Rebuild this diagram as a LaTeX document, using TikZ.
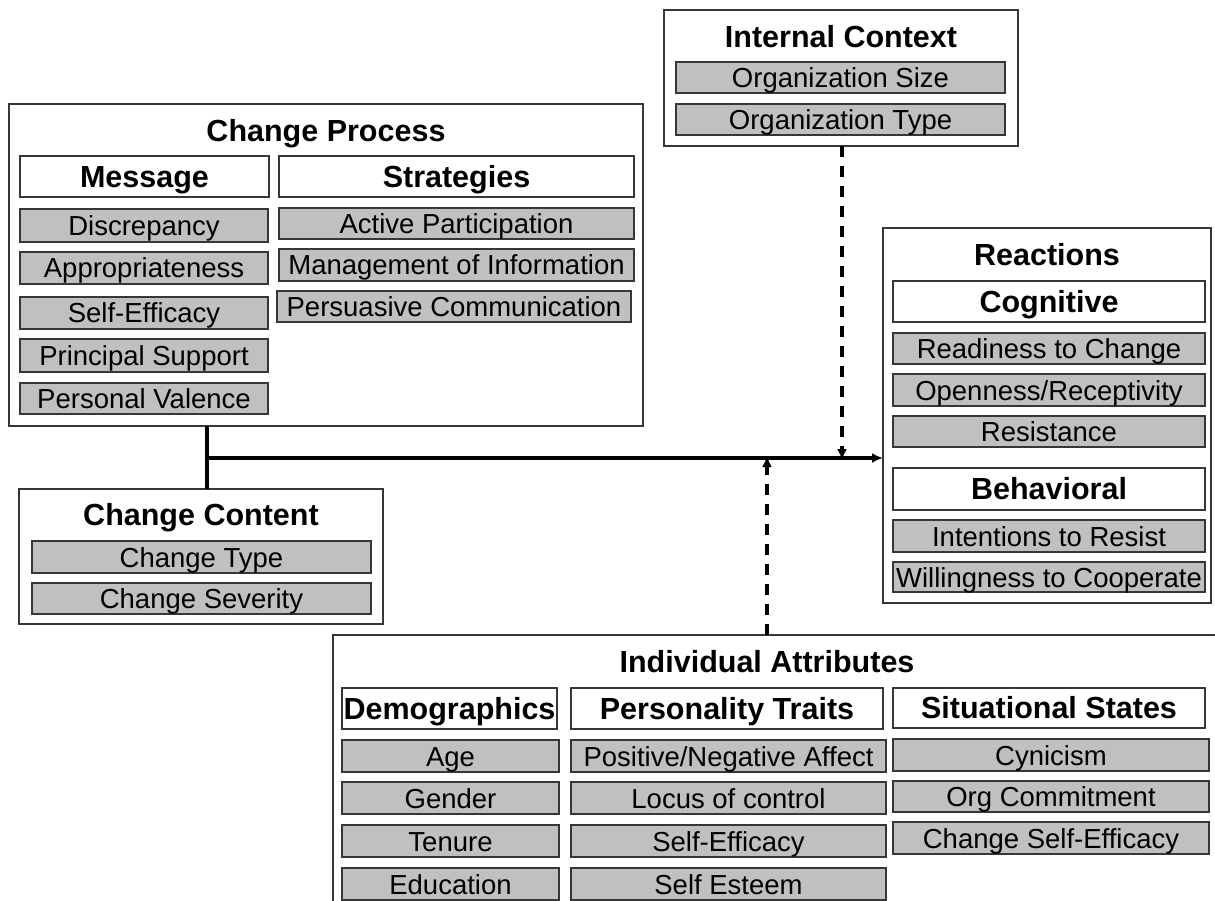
\documentclass[tikz,border=0pt]{standalone}
\usepackage{fontspec}
\setmainfont{Liberation Sans}
\usetikzlibrary{arrows.meta}
\definecolor{itemgray}{RGB}{192,192,192}
\definecolor{edgecol}{RGB}{55,55,55}
\tikzset{
  box/.style={draw=edgecol, line width=1.6pt, anchor=north west, inner sep=0pt, outer sep=0pt},
  container/.style={box, fill=white},
  item/.style={box, fill=itemgray, minimum height=32pt, text height=20pt, text depth=0pt, font=\fontsize{27.5}{30}\selectfont},
  header/.style={box, fill=white, minimum height=41pt, text height=21.5pt, text depth=0pt, font=\bfseries\fontsize{30.5}{33}\selectfont},
  title/.style={inner sep=0pt, text height=21.5pt, text depth=0pt, font=\bfseries\fontsize{30.5}{33}\selectfont},
  link/.style={line width=3.4pt, draw=black},
  dlink/.style={line width=3.2pt, draw=black, dash pattern=on 11pt off 9pt, -{Latex[length=11pt,width=10pt]}},
}
\begin{document}
\begin{tikzpicture}[x=1pt,y=-1pt]
\useasboundingbox (0,0) rectangle (1215,901);
\clip (0,0) rectangle (1215,901);
\fill[white] (0,0) rectangle (1215,901);

% Change Process
\node[container, minimum width=634, minimum height=322] (cp) at (9,104) {};
\node[title] (cpt) at (326,131) {Change Process};
\node[header, minimum width=249] (msg) at (20,156) {Message};
\node[header, minimum width=355] (str) at (279,156) {Strategies};
\node[item, minimum width=248, minimum height=33] (m1) at (20,209) {Discrepancy};
\node[item, minimum width=248] (m2) at (20,252) {Appropriateness};
\node[item, minimum width=248] (m3) at (20,297) {Self-Efficacy};
\node[item, minimum width=248, minimum height=33] (m4) at (20,339) {Principal Support};
\node[item, minimum width=248, minimum height=31] (m5) at (20,383) {Personal Valence};
\node[item, minimum width=355, minimum height=31] (s1) at (279,208) {Active Participation};
\node[item, minimum width=355] (s2) at (279,249) {Management of Information};
\node[item, minimum width=354, minimum height=31] (s3) at (277,291) {Persuasive Communication};

% Internal Context
\node[container, minimum width=354, minimum height=136] (ic) at (664,10) {};
\node[title] (ict) at (841,37) {Internal Context};
\node[item, minimum width=329, minimum height=31] (i1) at (676,62) {Organization Size};
\node[item, minimum width=329, minimum height=31] (i2) at (676,104) {Organization Type};

% Reactions
\node[container, minimum width=328, minimum height=375] (re) at (883,228) {};
\node[title] (ret) at (1047,255) {Reactions};
\node[header, minimum width=312] (cog) at (893,281) {Cognitive};
\node[item, minimum width=312, minimum height=31] (r1) at (893,333) {Readiness to Change};
\node[item, minimum width=312] (r2) at (893,374) {Openness/Receptivity};
\node[item, minimum width=312, minimum height=31] (r3) at (893,416) {Resistance};
\node[header, minimum width=312, minimum height=42] (beh) at (893,468) {Behavioral};
\node[item, minimum width=312] (r4) at (893,520) {Intentions to Resist};
\node[item, minimum width=312, minimum height=30] (r5) at (893,562) {Willingness to Cooperate};

% Change Content
\node[container, minimum width=364, minimum height=135] (cc) at (19,489) {};
\node[title] (cct) at (201,515) {Change Content};
\node[item, minimum width=339] (c1) at (32,541) {Change Type};
\node[item, minimum width=339, minimum height=31] (c2) at (32,583) {Change Severity};

% Individual Attributes
\node[container, minimum width=900, minimum height=320] (ia) at (333,635) {};
\node[title] (iat) at (767,662) {Individual Attributes};
\node[header, minimum width=215] (dem) at (342,688) {Demographics};
\node[header, minimum width=312] (per) at (571,688) {Personality Traits};
\node[header, minimum width=312, minimum height=40] (sit) at (893,688) {Situational States};
\node[item, minimum width=217] (d1) at (342,740) {Age};
\node[item, minimum width=217] (d2) at (342,782) {Gender};
\node[item, minimum width=217] (d3) at (342,825) {Tenure};
\node[item, minimum width=217] (d4) at (342,868) {Education};
\node[item, minimum width=315] (p1) at (571,740) {Positive/Negative Affect};
\node[item, minimum width=315] (p2) at (571,782) {Locus of control};
\node[item, minimum width=315] (p3) at (571,825) {Self-Efficacy};
\node[item, minimum width=315] (p4) at (571,868) {Self Esteem};
\node[item, minimum width=316] (t1) at (893,739) {Cynicism};
\node[item, minimum width=316, minimum height=31] (t2) at (893,781) {Org Commitment};
\node[item, minimum width=316] (t3) at (893,822) {Change Self-Efficacy};

% Connectors
\coordinate (j) at (207,458);
\coordinate (icx) at (842,0);
\coordinate (iax) at (767,0);
\draw[link] (cp.south -| j) -- (cc.north -| j);
\draw[link, -{Latex[length=11pt,width=10pt]}] (j) -- (j -| re.west);
\draw[dlink] (ic.south -| icx) -- ([yshift=-2pt]j -| icx);
\draw[dlink] (ia.north -| iax) -- ([yshift=2pt]j -| iax);
\end{tikzpicture}
\end{document}
